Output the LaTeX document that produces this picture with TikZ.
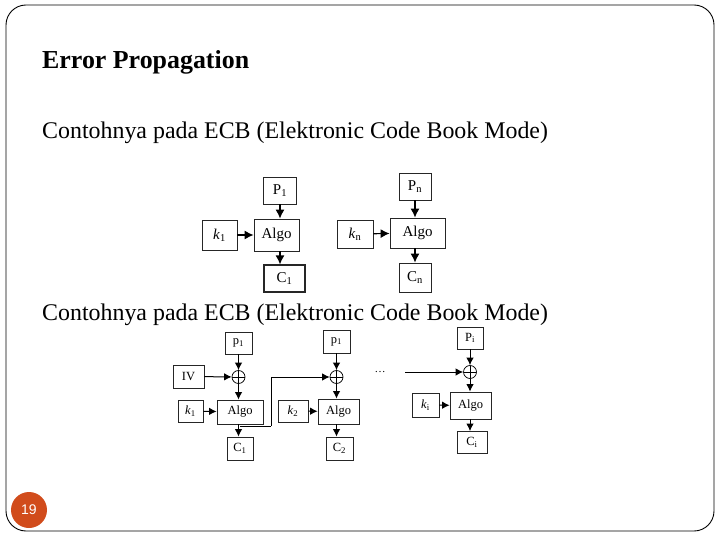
\documentclass[tikz,border=0pt]{standalone}
\usepackage{fontspec}
\setmainfont{Liberation Serif}
\newfontfamily\numfont{Liberation Sans}
\usepackage{xcolor}
\usetikzlibrary{arrows.meta,calc,positioning}
\definecolor{pagenum}{RGB}{209,76,28}
\tikzset{%
	block/.style    = {draw=black!85, rectangle, inner sep=0pt, line width=0.8pt}, % Box
	bigbox/.style   = {block, font=\fontsize{15}{16}\selectfont},
	smallbox/.style = {block, font=\fontsize{12.5}{13}\selectfont},
	sum/.style      = {draw, circle, minimum size=13pt, inner sep=0pt, line width=0.7pt,
		path picture={\draw[line width=0.7pt] (path picture bounding box.north) -- (path picture bounding box.south)
			(path picture bounding box.west) -- (path picture bounding box.east);}}, % Xor
	waypoint/.style = {coordinate},
	arrow/.style    = {line width=1.2pt,-{Latex[length=9pt,width=9pt]}},
	sarrow/.style   = {line width=1pt,-{Latex[length=7.5pt,width=7.5pt]}},
	slidetext/.style= {anchor=base west, inner sep=0pt},
}
\newcommand{\sub}[1]{\textsubscript{#1}}

\begin{document}
\begin{tikzpicture}[x=1pt,y=-1pt]
	\useasboundingbox (0,0) rectangle (720,540);
	\draw[line width=0.9pt,rounded corners=20pt] (6,5) rectangle (714,531);

	\node[slidetext,font=\fontsize{25.9}{28}\selectfont\bfseries] (title) at (42,69) {Error Propagation};
	\node[slidetext,font=\fontsize{23.9}{26}\selectfont] (txta) at (42,139) {Contohnya pada ECB (Elektronic Code Book Mode)};
	\node[slidetext,font=\fontsize{23.9}{26}\selectfont] (txtb) at (42,320) {Contohnya pada ECB (Elektronic Code Book Mode)};

	\node[circle,fill=pagenum,minimum size=36pt,inner sep=0pt,text=white,font=\numfont\fontsize{14}{14}\selectfont] (page) at (29,510) {19};

	% ECB
	\node [bigbox,minimum width=33pt,minimum height=27pt] (p1) at (280,190.5) {P\sub{1}};
	\node [bigbox,minimum width=35pt,minimum height=30pt] (k1) at (219.5,235) {\textit{k}\sub{1}};
	\node [bigbox,minimum width=45pt,minimum height=32pt] (algo1) at (276.5,235) {Algo};
	\node [bigbox,minimum width=41pt,minimum height=27pt,line width=1.2pt] (c1) at (284.5,278.5) {C\sub{1}};

	\node [bigbox,minimum width=32pt,minimum height=27pt] (pn) at (415,186.5) {P\sub{n}};
	\node [bigbox,minimum width=36pt,minimum height=28pt] (kn) at (355,234) {\textit{k}\sub{n}};
	\node [bigbox,minimum width=55pt,minimum height=30pt] (algon) at (417.5,233) {Algo};
	\node [bigbox,minimum width=32pt,minimum height=29pt] (cn) at (415,277.5) {C\sub{n}};

	\draw[arrow] (p1) -- (p1 |- algo1.north);
	\draw[arrow] (k1) -- (algo1);
	\draw[arrow] (algo1.south -| p1) -- (p1 |- c1.north);
	\draw[arrow] (pn) -- (pn |- algon.north);
	\draw[arrow] (kn) -- (algon);
	\draw[arrow] (algon.south -| pn) -- (pn |- cn.north);

	% CBC
	\node [smallbox,minimum width=27pt,minimum height=22pt] (pa) at (238.5,343) {p\sub{1}};
	\node [sum] (xa) at (238.5,377) {};
	\node [smallbox,minimum width=31pt,minimum height=23pt] (iv) at (188.5,376.5) {IV};
	\node [smallbox,minimum width=25pt,minimum height=22pt] (ka) at (190.5,411) {\textit{k}\sub{1}};
	\node [smallbox,minimum width=46pt,minimum height=24pt] (algoa) at (240,412) {Algo};
	\node [smallbox,minimum width=26pt,minimum height=23pt] (ca) at (240,448.5) {C\sub{1}};
	\node [waypoint] (fork) at (240,426) {};
	\node [waypoint] (bend) at (271,426) {};

	\node [smallbox,minimum width=27pt,minimum height=23pt] (pb) at (336.5,341.5) {p\sub{1}};
	\node [sum] (xb) at (336.5,377) {};
	\node [smallbox,minimum width=30pt,minimum height=22pt] (kb) at (293,411) {\textit{k}\sub{2}};
	\node [smallbox,minimum width=41pt,minimum height=25pt] (algob) at (338.5,411.5) {Algo};
	\node [smallbox,minimum width=27pt,minimum height=23pt] (cb) at (339.5,448.5) {C\sub{2}};

	\node [font=\fontsize{11}{12}\selectfont] (dots) at (380,372) {\dots};
	\node [waypoint] (from) at (405,372) {};

	\node [smallbox,minimum width=26pt,minimum height=22pt] (pc) at (470,338) {P\sub{i}};
	\node [sum] (xc) at (470,372) {};
	\node [smallbox,minimum width=27pt,minimum height=24pt] (kc) at (425.5,405) {\textit{k}\sub{i}};
	\node [smallbox,minimum width=41pt,minimum height=27pt] (algoc) at (470.5,405.5) {Algo};
	\node [smallbox,minimum width=30pt,minimum height=22pt] (cc) at (472,442.5) {C\sub{i}};

	\draw[sarrow] (pa) -- (xa);
	\draw[sarrow] (iv) -- (xa);
	\draw[sarrow] (xa) -- (xa |- algoa.north);
	\draw[sarrow] (ka) -- (algoa);
	\draw[sarrow] (algoa.south -| xa) -- (xa |- ca.north);
	\draw[line width=1pt] (fork) -- (bend);
	\draw[sarrow] (bend) |- (xb);

	\draw[sarrow] (pb) -- (xb);
	\draw[sarrow] (xb) -- (xb |- algob.north);
	\draw[sarrow] (kb) -- (algob);
	\draw[sarrow] (algob.south -| xb) -- (xb |- cb.north);

	\draw[sarrow] (from) -- (xc);
	\draw[sarrow] (pc) -- (xc);
	\draw[sarrow] (xc) -- (xc |- algoc.north);
	\draw[sarrow] (kc) -- (algoc);
	\draw[sarrow] (algoc.south -| xc) -- (xc |- cc.north);
\end{tikzpicture}
\end{document}
